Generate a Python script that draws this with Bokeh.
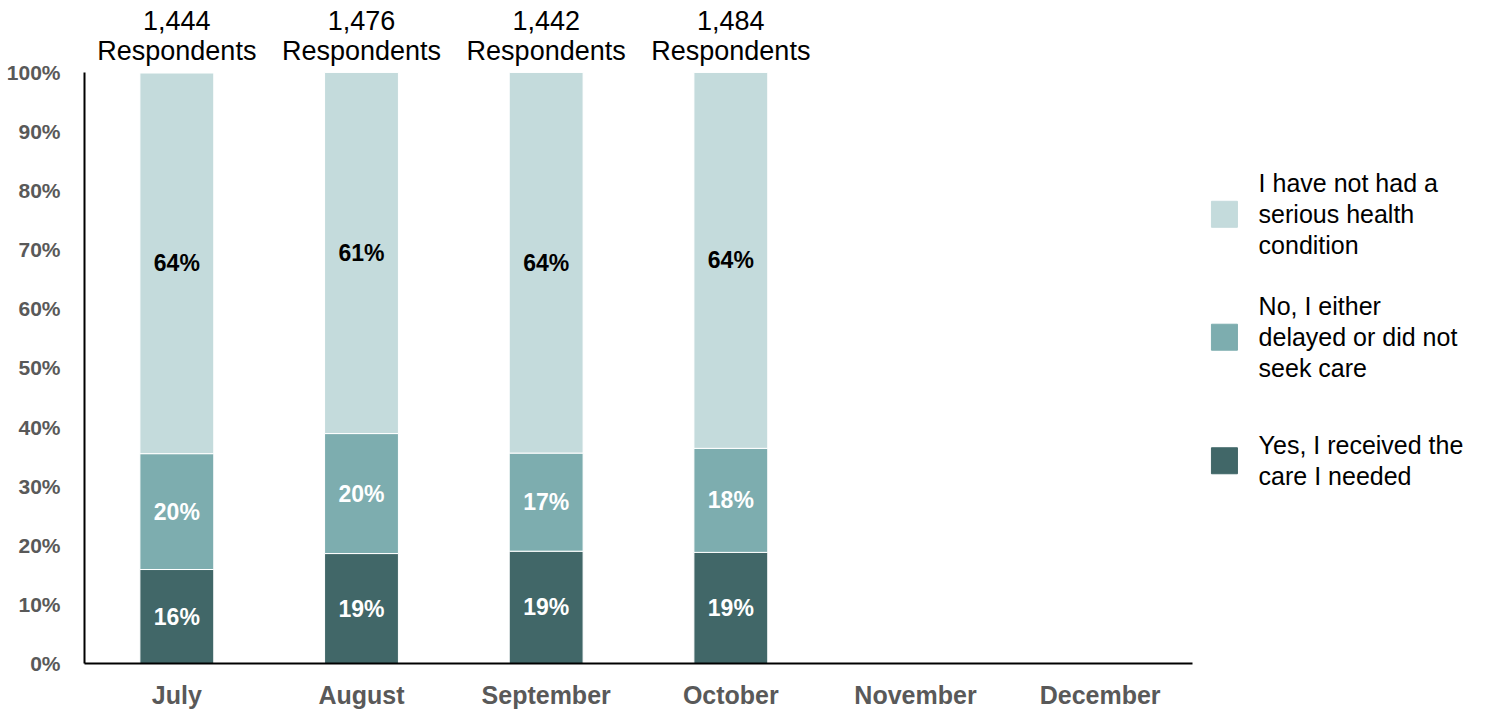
from bokeh.plotting import figure
from bokeh.models import ColumnDataSource, NumeralTickFormatter, FixedTicker, Range1d
from bokeh.core.properties import value
from bokeh.embed import file_html
from bokeh.resources import INLINE

months = ["July", "August", "September", "October", "November", "December"]
received = [15.9, 18.6, 19.0, 18.8, 0, 0]
delayed = [19.6, 20.3, 16.6, 17.6, 0, 0]
no_condition = [64.4, 61.1, 64.4, 63.6, 0, 0]
resp_months = ["July", "August", "September", "October"]
respondents = [1444, 1476, 1442, 1484]

series = ["received", "delayed", "no_condition"]
colors = ["#416768", "#7DADAF", "#C4DBDC"]
legend_labels = ["Yes, I received the\ncare I needed",
                 "No, I either\ndelayed or did not\nseek care",
                 "I have not had a\nserious health\ncondition"]

FONT = "Liberation Sans"

xpos = [i + 0.5 for i in range(len(months))]
src = ColumnDataSource(dict(
    x=xpos,
    received=[v / 100 for v in received],
    delayed=[v / 100 for v in delayed],
    no_condition=[v / 100 for v in no_condition],
))

p = figure(x_range=Range1d(0, 7.63), y_range=Range1d(0, 1.12), width=1493, height=711,
           output_backend="svg", toolbar_location=None,
           min_border_left=84, min_border_right=0, min_border_top=1, min_border_bottom=48)
p.outline_line_color = None
p.xgrid.grid_line_color = None
p.ygrid.grid_line_color = None

rs = p.vbar_stack(series, x="x", width=0.4, color=colors, source=src,
                  line_color="white", line_width=1)

# segment labels
lab = dict(x=[], y=[], text=[], color=[])
for i, m in enumerate(months):
    vals = [received[i], delayed[i], no_condition[i]]
    if sum(vals) == 0:
        continue
    base = 0
    for j, v in enumerate(vals):
        lab["x"].append(xpos[i])
        lab["y"].append((base + v / 2) / 100)
        lab["text"].append(f"{round(v)}%")
        lab["color"].append("black" if j == 2 else "white")
        base += v
lsrc = ColumnDataSource(lab)
p.text(x="x", y="y", text="text", source=lsrc, text_color="color",
       text_align="center", text_baseline="middle",
       text_font=value(FONT), text_font_style="bold", text_font_size="23px")

# respondents labels above bars
rsrc = ColumnDataSource(dict(x=[xpos[months.index(m)] for m in resp_months],
                             y1=[1.088] * 4, y2=[1.037] * 4,
                             n=[f"{v:,}" for v in respondents],
                             r=["Respondents"] * 4))
p.text(x="x", y="y1", text="n", source=rsrc,
       text_align="center", text_baseline="middle", text_color="black",
       text_font=value(FONT), text_font_size="27px")
p.text(x="x", y="y2", text="r", source=rsrc,
       text_align="center", text_baseline="middle", text_color="black",
       text_font=value(FONT), text_font_size="27px")

# legend (drawn in the free area right of the bars)
leg_y = [0.343, 0.552, 0.760]
lgsrc = ColumnDataSource(dict(x=[6.173] * 3, tx=[6.358] * 3, y=leg_y,
                              color=colors, label=legend_labels))
p.rect(x="x", y="y", width=26, height=26, width_units="screen", height_units="screen",
       color="color", source=lgsrc)
p.text(x="tx", y="y", text="label", source=lgsrc, text_align="left", text_baseline="middle",
       text_color="black", text_font=value(FONT), text_font_size="25px",
       text_line_height=1.1)

# axes
p.yaxis.ticker = FixedTicker(ticks=[i / 10 for i in range(11)])
p.yaxis.formatter = NumeralTickFormatter(format="0%")
p.yaxis.bounds = (0, 1)
p.xaxis.ticker = FixedTicker(ticks=xpos)
p.xaxis.major_label_overrides = {x: m for x, m in zip(xpos, months)}
p.xaxis.bounds = (0, len(months))
for ax in (p.xaxis[0], p.yaxis[0]):
    ax.axis_line_color = "black"
    ax.axis_line_width = 2
    ax.major_tick_line_color = None
    ax.minor_tick_line_color = None
    ax.major_label_text_font = FONT
    ax.major_label_text_font_style = "bold"
    ax.major_label_text_color = "#595959"
p.yaxis.major_label_text_font_size = "21px"
p.yaxis.major_label_standoff = 18
p.xaxis.major_label_text_font_size = "25px"
p.xaxis.major_label_standoff = 11

open("out.html", "w").write(file_html(p, INLINE))
